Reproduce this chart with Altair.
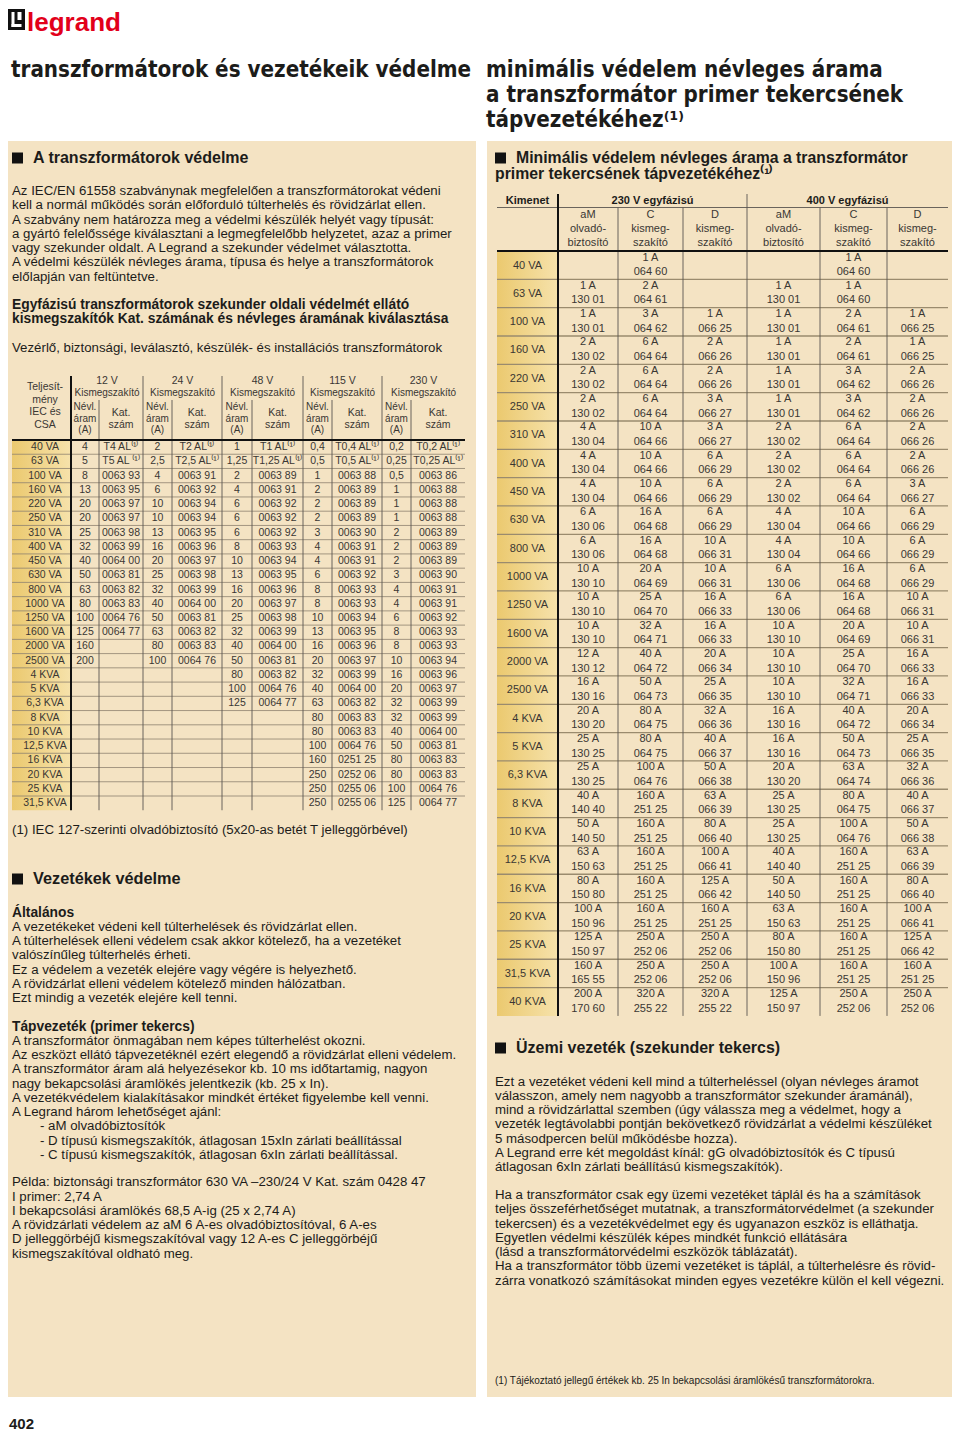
import altair as alt
import pandas as pd

# ================= page texts =================
LOGO_TEXT = "legrand"
PAGE_NUMBER = "402"
TITLE_LEFT = "transzformátorok és vezetékeik védelme"
TITLE_RIGHT = ["minimális védelem névleges árama",
               "a transzformátor primer tekercsének",
               "tápvezetékéhez⁽¹⁾"]

HEAD_TRAFO = "A transzformátorok védelme"
PARA_TRAFO = [
    "Az IEC/EN 61558 szabványnak megfelelően a transzformátorokat védeni",
    "kell a normál működés során előforduló túlterhelés és rövidzárlat ellen.",
    "A szabvány nem határozza meg a védelmi készülék helyét vagy típusát:",
    "a gyártó felelőssége kiválasztani a legmegfelelőbb helyzetet, azaz a primer",
    "vagy szekunder oldalt. A Legrand a szekunder védelmet választotta.",
    "A védelmi készülék névleges árama, típusa és helye a transzformátorok",
    "előlapján van feltüntetve.",
]
HEAD_SELECT = ["Egyfázisú transzformátorok szekunder oldali védelmét ellátó",
               "kismegszakítók Kat. számának és névleges áramának kiválasztása"]
SUB_SELECT = "Vezérlő, biztonsági, leválasztó, készülék- és installációs transzformátorok"
NOTE_LEFT = "(1) IEC 127-szerinti olvadóbiztosító (5x20-as betét T jelleggörbével)"

HEAD_LINES = "Vezetékek védelme"
SUB_GENERAL = "Általános"
PARA_GENERAL = [
    "A vezetékeket védeni kell túlterhelések és rövidzárlat ellen.",
    "A túlterhelések elleni védelem csak akkor kötelező, ha a vezetéket",
    "valószínűleg túlterhelés érheti.",
    "Ez a védelem a vezeték elejére vagy végére is helyezhető.",
    "A rövidzárlat elleni védelem kötelező minden hálózatban.",
    "Ezt mindig a vezeték elejére kell tenni.",
]
SUB_FEED = "Tápvezeték (primer tekercs)"
PARA_FEED = [
    "A transzformátor önmagában nem képes túlterhelést okozni.",
    "Az eszközt ellátó tápvezetéknél ezért elegendő a rövidzárlat elleni védelem.",
    "A transzformátor áram alá helyezésekor kb. 10 ms időtartamig, nagyon",
    "nagy bekapcsolási áramlökés jelentkezik (kb. 25 x In).",
    "A vezetékvédelem kialakításakor mindkét értéket figyelembe kell venni.",
    "A Legrand három lehetőséget ajánl:",
]
LIST_FEED = [
    "- aM olvadóbiztosítók",
    "- D típusú kismegszakítók, átlagosan 15xIn zárlati beállítással",
    "- C típusú kismegszakítók, átlagosan 6xIn zárlati beállítással.",
]
PARA_EXAMPLE = [
    "Példa: biztonsági transzformátor 630 VA –230/24 V Kat. szám 0428 47",
    "I primer: 2,74 A",
    "I bekapcsolási áramlökés 68,5 A-ig (25 x 2,74 A)",
    "A rövidzárlati védelem az aM 6 A-es olvadóbiztosítóval, 6 A-es",
    "D jelleggörbéjű kismegszakítóval vagy 12 A-es C jelleggörbéjű",
    "kismegszakítóval oldható meg.",
]

HEAD_MIN = ["Minimális védelem névleges árama a transzformátor",
            "primer tekercsének tápvezetékéhez⁽¹⁾"]
HEAD_SERVICE = "Üzemi vezeték (szekunder tekercs)"
PARA_SERVICE_1 = [
    "Ezt a vezetéket védeni kell mind a túlterheléssel (olyan névleges áramot",
    "válasszon, amely nem nagyobb a transzformátor szekunder áramánál),",
    "mind a rövidzárlattal szemben (úgy válassza meg a védelmet, hogy a",
    "vezeték legtávolabbi pontján bekövetkező rövidzárlat a védelmi készüléket",
    "5 másodpercen belül működésbe hozza).",
    "A Legrand erre két megoldást kínál: gG olvadóbiztosítók és C típusú",
    "átlagosan 6xIn zárlati beállítású kismegszakítók).",
]
PARA_SERVICE_2 = [
    "Ha a transzformátor csak egy üzemi vezetéket táplál és ha a számítások",
    "teljes összeférhetőséget mutatnak, a transzformátorvédelmet (a szekunder",
    "tekercsen) és a vezetékvédelmet egy és ugyanazon eszköz is elláthatja.",
    "Egyetlen védelmi készülék képes mindkét funkció ellátására",
    "(lásd a transzformátorvédelmi eszközök táblázatát).",
    "Ha a transzformátor több üzemi vezetéket is táplál, a túlterhelésre és rövid-",
    "zárra vonatkozó számításokat minden egyes vezetékre külön el kell végezni.",
]
NOTE_RIGHT = "(1) Tájékoztató jellegű értékek kb. 25 In bekapcsolási áramlökésű transzformátorokra."

# ================= left table =================
LT_POWER = ["40 VA", "63 VA", "100 VA", "160 VA", "220 VA", "250 VA", "310 VA", "400 VA",
            "450 VA", "630 VA", "800 VA", "1000 VA", "1250 VA", "1600 VA", "2000 VA", "2500 VA",
            "4 KVA", "5 KVA", "6,3 KVA", "8 KVA", "10 KVA", "12,5 KVA", "16 KVA", "20 KVA",
            "25 KVA", "31,5 KVA"]
LT_VOLTAGES = ["12 V", "24 V", "48 V", "115 V", "230 V"]
LT_HEAD_FIRST = ["Teljesít-", "mény", "IEC és", "CSA"]
LT_HEAD_GROUP = "Kismegszakító"
LT_HEAD_IN = ["Névl.", "áram", "(A)"]
LT_HEAD_CAT = ["Kat.", "szám"]

IN_12 = ["4", "5", "8", "13", "20", "20", "25", "32", "40", "50", "63", "80", "100", "125", "160", "200"]
CAT_12 = ["T4  AL⁽¹⁾", "T5 AL ⁽¹⁾", "0063 93", "0063 95", "0063 97", "0063 97", "0063 98", "0063 99",
          "0064 00", "0063 81", "0063 82", "0063 83", "0064 76", "0064 77"]
IN_24 = ["2", "2,5", "4", "6", "10", "10", "13", "16", "20", "25", "32", "40", "50", "63", "80", "100"]
CAT_24 = ["T2 AL⁽¹⁾", "T2,5 AL⁽¹⁾", "0063 91", "0063 92", "0063 94", "0063 94", "0063 95", "0063 96",
          "0063 97", "0063 98", "0063 99", "0064 00", "0063 81", "0063 82", "0063 83", "0064 76"]
IN_48 = ["1", "1,25", "2", "4", "6", "6", "6", "8", "10", "13", "16", "20", "25", "32", "40", "50",
         "80", "100", "125"]
CAT_48 = ["T1 AL⁽¹⁾", "T1,25 AL⁽¹⁾", "0063 89", "0063 91", "0063 92", "0063 92", "0063 92", "0063 93",
          "0063 94", "0063 95", "0063 96", "0063 97", "0063 98", "0063 99", "0064 00", "0063 81",
          "0063 82", "0064 76", "0064 77"]
IN_115 = ["0,4", "0,5", "1", "2", "2", "2", "3", "4", "4", "6", "8", "8", "10", "13", "16", "20",
          "32", "40", "63", "80", "80", "100", "160", "250", "250", "250"]
CAT_115 = ["T0,4 AL⁽¹⁾", "T0,5 AL⁽¹⁾", "0063 88", "0063 89", "0063 89", "0063 89", "0063 90", "0063 91",
           "0063 91", "0063 92", "0063 93", "0063 93", "0063 94", "0063 95", "0063 96", "0063 97",
           "0063 99", "0064 00", "0063 82", "0063 83", "0063 83", "0064 76", "0251 25", "0252 06",
           "0255 06", "0255 06"]
IN_230 = ["0,2", "0,25", "0,5", "1", "1", "1", "2", "2", "2", "3", "4", "4", "6", "8", "8", "10",
          "16", "20", "32", "32", "40", "50", "80", "80", "100", "125"]
CAT_230 = ["T0,2 AL⁽¹⁾", "T0,25 AL⁽¹⁾", "0063 86", "0063 88", "0063 88", "0063 88", "0063 89", "0063 89",
           "0063 89", "0063 90", "0063 91", "0063 91", "0063 92", "0063 93", "0063 93", "0063 94",
           "0063 96", "0063 97", "0063 99", "0063 99", "0064 00", "0063 81", "0063 83", "0063 83",
           "0064 76", "0064 77"]

# ================= right table =================
RT_POWER = ["40 VA", "63 VA", "100 VA", "160 VA", "220 VA", "250 VA", "310 VA", "400 VA",
            "450 VA", "630 VA", "800 VA", "1000 VA", "1250 VA", "1600 VA", "2000 VA", "2500 VA",
            "4 KVA", "5 KVA", "6,3 KVA", "8 KVA", "10 KVA", "12,5 KVA", "16 KVA", "20 KVA",
            "25 KVA", "31,5 KVA", "40 KVA"]
RT_HEAD_FIRST = "Kimenet"
RT_GROUPS = ["230 V egyfázisú", "400 V egyfázisú"]
RT_SUBHEAD = [["aM", "olvadó-", "biztosító"], ["C", "kismeg-", "szakító"], ["D", "kismeg-", "szakító"]]

AM230_A = ["", "1 A", "1 A", "2 A", "2 A", "2 A", "4 A", "4 A", "4 A", "6 A", "6 A", "10 A", "10 A",
           "10 A", "12 A", "16 A", "20 A", "25 A", "25 A", "40 A", "50 A", "63 A", "80 A", "100 A",
           "125 A", "160 A", "200 A"]
AM230_CAT = ["", "130 01", "130 01", "130 02", "130 02", "130 02", "130 04", "130 04", "130 04",
             "130 06", "130 06", "130 10", "130 10", "130 10", "130 12", "130 16", "130 20", "130 25",
             "130 25", "140 40", "140 50", "150 63", "150 80", "150 96", "150 97", "165 55", "170 60"]
C230_A = ["1 A", "2 A", "3 A", "6 A", "6 A", "6 A", "10 A", "10 A", "10 A", "16 A", "16 A", "20 A",
          "25 A", "32 A", "40 A", "50 A", "80 A", "80 A", "100 A", "160 A", "160 A", "160 A", "160 A",
          "160 A", "250 A", "250 A", "320 A"]
C230_CAT = ["064 60", "064 61", "064 62", "064 64", "064 64", "064 64", "064 66", "064 66", "064 66",
            "064 68", "064 68", "064 69", "064 70", "064 71", "064 72", "064 73", "064 75", "064 75",
            "064 76", "251 25", "251 25", "251 25", "251 25", "251 25", "252 06", "252 06", "255 22"]
D230_A = ["", "", "1 A", "2 A", "2 A", "3 A", "3 A", "6 A", "6 A", "6 A", "10 A", "10 A", "16 A",
          "16 A", "20 A", "25 A", "32 A", "40 A", "50 A", "63 A", "80 A", "100 A", "125 A", "160 A",
          "250 A", "250 A", "320 A"]
D230_CAT = ["", "", "066 25", "066 26", "066 26", "066 27", "066 27", "066 29", "066 29", "066 29",
            "066 31", "066 31", "066 33", "066 33", "066 34", "066 35", "066 36", "066 37", "066 38",
            "066 39", "066 40", "066 41", "066 42", "251 25", "252 06", "252 06", "255 22"]
AM400_A = ["", "1 A", "1 A", "1 A", "1 A", "1 A", "2 A", "2 A", "2 A", "4 A", "4 A", "6 A", "6 A",
           "10 A", "10 A", "10 A", "16 A", "16 A", "20 A", "25 A", "25 A", "40 A", "50 A", "63 A",
           "80 A", "100 A", "125 A"]
AM400_CAT = ["", "130 01", "130 01", "130 01", "130 01", "130 01", "130 02", "130 02", "130 02",
             "130 04", "130 04", "130 06", "130 06", "130 10", "130 10", "130 10", "130 16", "130 16",
             "130 20", "130 25", "130 25", "140 40", "140 50", "150 63", "150 80", "150 96", "150 97"]
C400_A = ["1 A", "1 A", "2 A", "2 A", "3 A", "3 A", "6 A", "6 A", "6 A", "10 A", "10 A", "16 A",
          "16 A", "20 A", "25 A", "32 A", "40 A", "50 A", "63 A", "80 A", "100 A", "160 A", "160 A",
          "160 A", "160 A", "160 A", "250 A"]
C400_CAT = ["064 60", "064 60", "064 61", "064 61", "064 62", "064 62", "064 64", "064 64", "064 64",
            "064 66", "064 66", "064 68", "064 68", "064 69", "064 70", "064 71", "064 72", "064 73",
            "064 74", "064 75", "064 76", "251 25", "251 25", "251 25", "251 25", "251 25", "252 06"]
D400_A = ["", "", "1 A", "1 A", "2 A", "2 A", "2 A", "2 A", "3 A", "6 A", "6 A", "6 A", "10 A",
          "10 A", "16 A", "16 A", "20 A", "25 A", "32 A", "40 A", "50 A", "63 A", "80 A", "100 A",
          "125 A", "160 A", "250 A"]
D400_CAT = ["", "", "066 25", "066 25", "066 26", "066 26", "066 26", "066 26", "066 27", "066 29",
            "066 29", "066 29", "066 31", "066 31", "066 33", "066 33", "066 34", "066 35", "066 36",
            "066 37", "066 38", "066 39", "066 40", "066 41", "066 42", "251 25", "252 06"]

# ================= styles & layout =================
SANS = "Liberation Sans, Arial, Helvetica, sans-serif"
NARROW = "DejaVu Sans Condensed, Liberation Sans Narrow, Arial Narrow, sans-serif"
INK = "#1c1c1a"
TAB_INK = "#3a3733"
PANEL = "#f4e3c3"
RED = "#e2001a"
GOLD_L, GOLD_R = "#ebc96f", "#f6e2ab"
ROW_LINE = "#8e8270"
COL_LINE = "#5a5650"
TITLE_SIZE = 22.2
BODY = 13.25
SUBHEAD = 13.8

texts, rects, rules, golds = [], [], [], []


def add_text(x, y, s, size=BODY, weight="normal", align="left", color=INK, font=SANS):
    if s:
        texts.append(dict(x=x, y=y, t=s, size=size, weight=weight, align=align, color=color, font=font))


def add_lines(lines, x, y0, step, **kw):
    for i, s in enumerate(lines):
        add_text(x, y0 + i * step, s, **kw)


def add_rect(x, x2, y, y2, color):
    rects.append(dict(x=x, x2=x2, y=y, y2=y2, c=color))


def add_rule(x, y, x2, y2, w, color):
    rules.append(dict(x=x, x2=x2, y=y, y2=y2, w=w, c=color))


def bullet(x, y):
    add_rect(x, x + 11, y - 5.5, y + 5.5, "#111111")


pad = lambda lst, n: lst + [""] * (n - len(lst))

# ---- header ----
add_rect(8, 25, 9, 30, "#111111")
add_rect(11.5, 14.5, 12, 27, "#ffffff")
add_rect(11.5, 21.5, 24, 27, "#ffffff")
add_rect(17.5, 21.5, 12, 20, "#ffffff")
add_text(27, 22.5, LOGO_TEXT, size=26, weight="bold", color=RED)
add_text(11, 70, TITLE_LEFT, size=TITLE_SIZE, weight="bold", font=NARROW)
add_lines(TITLE_RIGHT, 486, 70, 25, size=TITLE_SIZE, weight="bold", font=NARROW)

# ---- panels ----
add_rect(3, 476, 141, 1397, PANEL)
add_rect(487, 957, 141, 1397, PANEL)

# ---- left column text ----
LH = 14.25
bullet(12, 158)
add_text(33, 158, HEAD_TRAFO, size=16, weight="bold")
add_lines(PARA_TRAFO, 12, 191, LH)
add_lines(HEAD_SELECT, 12, 305, LH, size=SUBHEAD, weight="bold")
add_text(12, 348, SUB_SELECT)
add_text(12, 830, NOTE_LEFT)
bullet(12, 879)
add_text(33, 879, HEAD_LINES, size=16.3, weight="bold")
add_text(12, 912.5, SUB_GENERAL, size=SUBHEAD, weight="bold")
add_lines(PARA_GENERAL, 12, 912.5 + LH, LH)
add_text(12, 1026.5, SUB_FEED, size=SUBHEAD, weight="bold")
add_lines(PARA_FEED, 12, 1026.5 + LH, LH)
add_lines(LIST_FEED, 40, 1026.5 + LH * (len(PARA_FEED) + 1), LH)
add_lines(PARA_EXAMPLE, 12, 1182.3, LH)

# ---- left table ----
LT_X = [19, 71, 99, 143, 172, 222, 252, 303, 332, 382, 411, 465]
LT_HEAD_TOP, LT_SUB_TOP, LT_TOP, LT_STEP = 376, 400, 440, 14.24
n_lt = len(LT_POWER)
LT_BOTTOM = LT_TOP + n_lt * LT_STEP
golds.append(dict(x=12, x2=LT_X[1], y=LT_TOP, y2=LT_BOTTOM))
for i in range(1, n_lt):
    yy = LT_TOP + i * LT_STEP
    add_rule(12, yy, LT_X[-1], yy, 0.8, ROW_LINE)
for k in (3, 5, 7, 9):
    add_rule(LT_X[k], LT_HEAD_TOP, LT_X[k], LT_BOTTOM, 0.9, COL_LINE)
for k in (2, 4, 6, 8, 10):
    add_rule(LT_X[k], LT_SUB_TOP, LT_X[k], LT_BOTTOM, 0.9, COL_LINE)
add_rule(LT_X[1], LT_HEAD_TOP, LT_X[1], LT_BOTTOM, 2, "#111111")
add_rule(12, LT_TOP, LT_X[-1], LT_TOP, 2, "#111111")

first_cx = (LT_X[0] + LT_X[1]) / 2
add_lines(LT_HEAD_FIRST, first_cx, 387, 12.5, size=10.5, align="center", color=TAB_INK)
lt_in = [IN_12, IN_24, IN_48, IN_115, IN_230]
lt_cat = [CAT_12, CAT_24, CAT_48, CAT_115, CAT_230]
for g, volt in enumerate(LT_VOLTAGES):
    xa, xb, xc = LT_X[1 + 2 * g], LT_X[2 + 2 * g], LT_X[3 + 2 * g]
    add_text((xa + xc) / 2, 381, volt, size=10.5, align="center", color=TAB_INK)
    add_text((xa + xc) / 2, 393, LT_HEAD_GROUP, size=10, align="center", color=TAB_INK)
    add_lines(LT_HEAD_IN, (xa + xb) / 2, 407, 11.5, size=10, align="center", color=TAB_INK)
    add_lines(LT_HEAD_CAT, (xb + xc) / 2, 413, 12, size=10.5, align="center", color=TAB_INK)
    ins, cats = pad(lt_in[g], n_lt), pad(lt_cat[g], n_lt)
    for i in range(n_lt):
        yy = LT_TOP + (i + 0.5) * LT_STEP
        add_text((xa + xb) / 2, yy, ins[i], size=10.5, align="center", color=TAB_INK)
        add_text((xb + xc) / 2, yy, cats[i], size=10.5, align="center", color=TAB_INK)
for i, p in enumerate(LT_POWER):
    add_text(first_cx, LT_TOP + (i + 0.5) * LT_STEP, p, size=10.5, align="center", color=TAB_INK)

# ---- right column text ----
bullet(495, 158)
add_text(516, 158, HEAD_MIN[0], size=15.8, weight="bold")
add_text(495, 174, HEAD_MIN[1], size=15.8, weight="bold")
bullet(495, 1048)
add_text(516, 1048, HEAD_SERVICE, size=16, weight="bold")
add_lines(PARA_SERVICE_1, 495, 1081.7, LH)
add_lines(PARA_SERVICE_2, 495, 1195, LH)
add_text(495, 1381, NOTE_RIGHT, size=10)
add_text(9, 1424, PAGE_NUMBER, size=15, weight="bold")

# ---- right table ----
RT_X = [497, 558, 618, 683, 747, 820, 887, 948]
RT_HEAD_TOP, RT_MID, RT_TOP, RT_STEP = 194, 207.5, 251, 28.33
n_rt = len(RT_POWER)
RT_BOTTOM = RT_TOP + n_rt * RT_STEP
golds.append(dict(x=RT_X[0], x2=RT_X[1], y=RT_TOP, y2=RT_BOTTOM))
add_rule(RT_X[0], RT_MID, RT_X[-1], RT_MID, 0.9, COL_LINE)
for i in range(1, n_rt):
    yy = RT_TOP + i * RT_STEP
    add_rule(RT_X[0], yy, RT_X[-1], yy, 1.3, "#9a8b6e")
add_rule(RT_X[4], RT_HEAD_TOP, RT_X[4], RT_BOTTOM, 0.9, COL_LINE)
for k in (2, 3, 5, 6):
    add_rule(RT_X[k], RT_MID, RT_X[k], RT_BOTTOM, 0.9, COL_LINE)
add_rule(RT_X[1], RT_HEAD_TOP, RT_X[1], RT_BOTTOM, 2, "#111111")
add_rule(RT_X[0], RT_TOP, RT_X[-1], RT_TOP, 2, "#111111")

add_text((RT_X[0] + RT_X[1]) / 2, 201, RT_HEAD_FIRST, size=11, weight="bold", align="center")
add_text((RT_X[1] + RT_X[4]) / 2, 201, RT_GROUPS[0], size=11, weight="bold", align="center")
add_text((RT_X[4] + RT_X[7]) / 2, 201, RT_GROUPS[1], size=11, weight="bold", align="center")
rt_cols = [(AM230_A, AM230_CAT), (C230_A, C230_CAT), (D230_A, D230_CAT),
           (AM400_A, AM400_CAT), (C400_A, C400_CAT), (D400_A, D400_CAT)]
for c, (amps, cats) in enumerate(rt_cols):
    cx = (RT_X[1 + c] + RT_X[2 + c]) / 2
    add_lines(RT_SUBHEAD[c % 3], cx, 215, 14, size=11, align="center", color=TAB_INK)
    for i in range(n_rt):
        top = RT_TOP + i * RT_STEP
        add_text(cx, top + 6.5, amps[i], size=11, align="center", color=TAB_INK)
        add_text(cx, top + 21, cats[i], size=11, align="center", color=TAB_INK)
for i, p in enumerate(RT_POWER):
    add_text((RT_X[0] + RT_X[1]) / 2, RT_TOP + i * RT_STEP + 14.5, p, size=11, align="center", color=TAB_INK)

# ================= chart =================
XS = alt.Scale(domain=[8, 952], range=[0, 944], nice=False, zero=False)
YS = alt.Scale(domain=[8, 1431], range=[0, 1423], nice=False, zero=False)
X = alt.X("x:Q", scale=XS, axis=None)
Y = alt.Y("y:Q", scale=YS, axis=None)

layers = []
layers.append(alt.Chart(pd.DataFrame(rects)).mark_rect().encode(
    x=X, x2="x2:Q", y=Y, y2="y2:Q", color=alt.Color("c:N", scale=None)))
layers.append(alt.Chart(pd.DataFrame(golds)).mark_rect(
    fill=alt.Gradient(gradient="linear",
                      stops=[alt.GradientStop(color=GOLD_L, offset=0),
                             alt.GradientStop(color=GOLD_R, offset=1)],
                      x1=0, x2=1, y1=0, y2=0)).encode(x=X, x2="x2:Q", y=Y, y2="y2:Q"))
layers.append(alt.Chart(pd.DataFrame(rules)).mark_rule().encode(
    x=X, x2="x2:Q", y=Y, y2="y2:Q", size=alt.Size("w:Q", scale=None),
    color=alt.Color("c:N", scale=None)))

tdf = pd.DataFrame(texts)
for (w, a, f), g in tdf.groupby(["weight", "align", "font"]):
    layers.append(alt.Chart(g).mark_text(baseline="middle", align=a, fontWeight=w, font=f).encode(
        x=X, y=Y, text="t:N", size=alt.Size("size:Q", scale=None),
        color=alt.Color("color:N", scale=None)))

chart = alt.layer(*layers).properties(
    width=944, height=1423, padding=0,
    autosize=alt.AutoSizeParams(type="none"), background="white"
).configure_view(stroke=None)

chart.save("out.html", embed_options={"renderer": "svg", "actions": False})
